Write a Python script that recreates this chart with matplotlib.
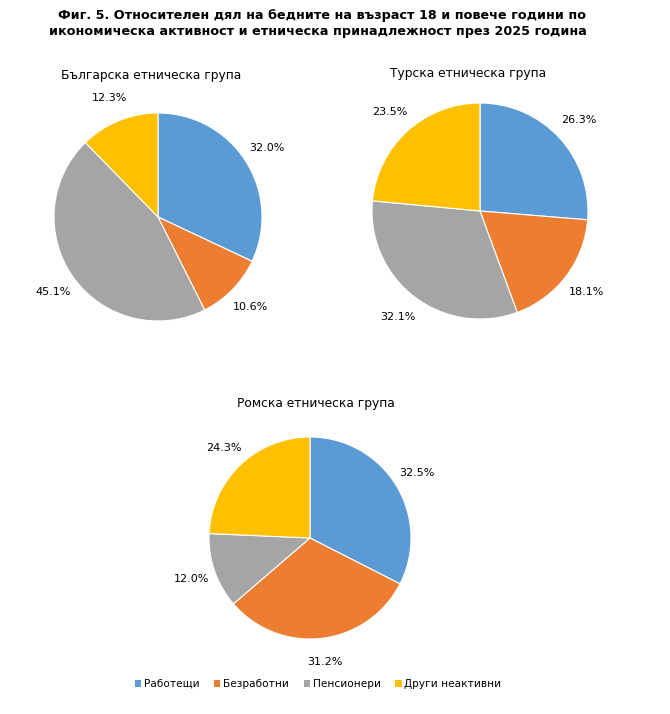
import matplotlib.pyplot as plt
from matplotlib.patches import Patch

categories = ['Работещи', 'Безработни', 'Пенсионери', 'Други неактивни']
colors = ['#5B9BD5', '#ED7D31', '#A5A5A5', '#FFC000']

groups = ['Българска етническа група', 'Турска етническа група', 'Ромска етническа група']
bulgarian = [32.0, 10.6, 45.1, 12.3]
turkish = [26.3, 18.1, 32.1, 23.5]
roma = [32.5, 31.2, 12.0, 24.3]

W, H = 670, 714
plt.rcParams['font.family'] = ['DejaVu Sans']

fig = plt.figure(figsize=(W / 100, H / 100), dpi=100)

# (center x, center y, radius, title x, title y) in pixels
layout = [(158, 217, 104, 151, 76), (480, 211, 108, 468, 73), (310, 538, 101, 316, 403)]

for name, vals, (cx, cy, r, tx, ty) in zip(groups, [bulgarian, turkish, roma], layout):
    ax = fig.add_axes([(cx - r) / W, (H - cy - r) / H, 2 * r / W, 2 * r / H])
    ax.pie(vals, colors=colors, startangle=90, counterclock=False,
           autopct='%1.1f%%', pctdistance=1.24,
           wedgeprops=dict(edgecolor='white', linewidth=0.8),
           textprops=dict(fontsize=8, color='#000000'))
    ax.set_xlim(-1, 1)
    ax.set_ylim(-1, 1)
    ax.set_aspect('equal')
    fig.text(tx / W, 1 - ty / H, name, ha='center', va='center', fontsize=8.8)

fig.text(322 / W, 1 - 15 / H, 'Фиг. 5. Относителен дял на бедните на възраст 18 и повече години по',
         ha='center', va='center', fontsize=9.2, fontweight='bold')
fig.text(318 / W, 1 - 31 / H, 'икономическа активност и етническа принадлежност през 2025 година',
         ha='center', va='center', fontsize=9.2, fontweight='bold')

handles = [Patch(facecolor=c, edgecolor='none') for c in colors]
fig.legend(handles, categories, loc='center', bbox_to_anchor=(318 / W, 1 - 684 / H),
           ncol=4, frameon=False, fontsize=7.6, handlelength=0.6, handleheight=0.6,
           handletextpad=0.25, columnspacing=1.4)

fig.savefig('out.png', dpi=100)
